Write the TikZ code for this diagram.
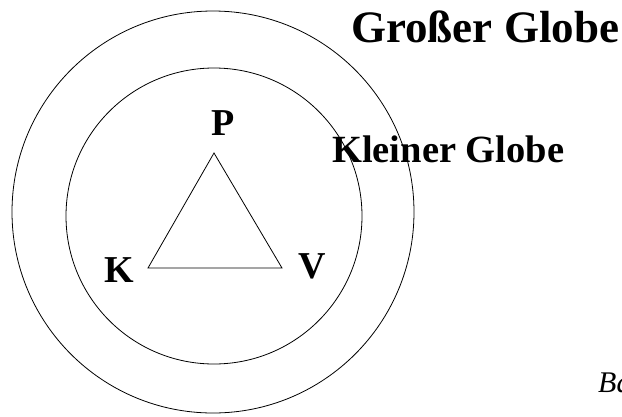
\documentclass[tikz,border=0pt]{standalone}
\usepackage{fontspec}
\setmainfont{Liberation Serif}
\usetikzlibrary{positioning}

\tikzset{
  globe/.style={draw, line width=0.8pt},
  bigtxt/.style={inner sep=0pt, font=\fontsize{45}{50}\selectfont\bfseries},
  midtxt/.style={inner sep=0pt, font=\fontsize{38.5}{42}\selectfont\bfseries},
  corner/.style={inner sep=0pt, anchor=base, font=\fontsize{38}{40}\selectfont\bfseries}
}

\begin{document}
\begin{tikzpicture}[x=1pt, y=-1pt]
    \useasboundingbox (0,0) rectangle (622,416);
    % globes
    \draw[globe] (213,212) circle[radius=201];
    \draw[globe] (214,216) circle[radius=148];
    % triangle
    \coordinate (tp) at (214,153);
    \coordinate (tk) at (148,268);
    \coordinate (tv) at (282,268);
    \draw[line width=0.8pt] (tp) -- (tv) -- (tk) -- cycle;
    \node[corner] (p) at (223,135) {P};
    \node[corner] (k) at (119,282) {K};
    \node[corner] (v) at (312,278) {V};
    % labels
    \node[bigtxt, anchor=base west] (gross) at (351,42) {Großer Globe};
    \node[midtxt, anchor=base west] (klein) at (332,162) {Kleiner Globe};
    \node[inner sep=0pt, anchor=base west, font=\fontsize{30}{34}\selectfont\itshape] (ba) at (598,392) {Ba};
\end{tikzpicture}
\end{document}
